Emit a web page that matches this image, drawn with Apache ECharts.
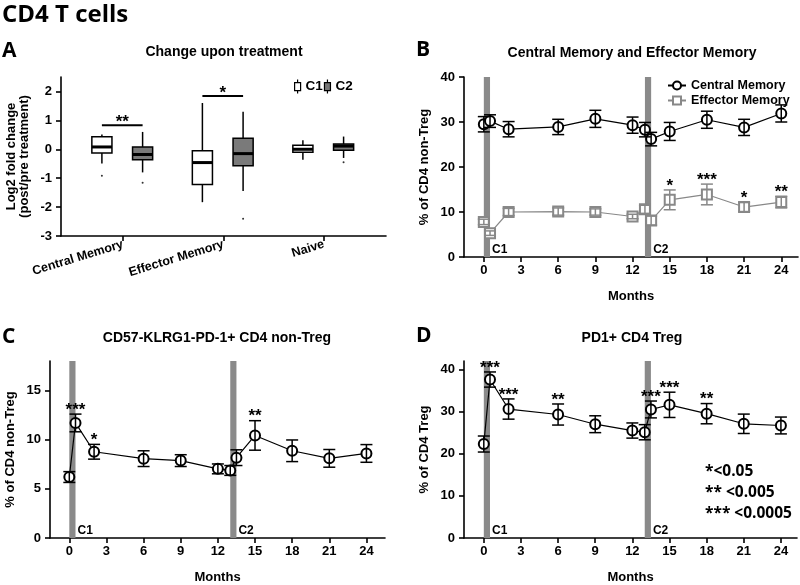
<!DOCTYPE html>
<html><head><meta charset="utf-8">
<script src="https://cdn.jsdelivr.net/npm/echarts@6/dist/echarts.min.js"></script>
<style>html,body{margin:0;padding:0;background:#fff}#c{width:800px;height:585px}</style>
</head><body><div id="c"></div>
<script>
// ---------- Panel A data ----------
const catsA = ['Central Memory', 'Effector Memory', 'Naive'];
// [min, q1, median, q3, max]
const boxC1 = [[-0.49, -0.13, 0.08, 0.43, 0.51], [-1.83, -1.22, -0.46, -0.05, 1.60], [-0.36, -0.10, 0.00, 0.14, 0.31]];
const boxC2 = [[-0.80, -0.36, -0.18, 0.08, 0.60], [-1.44, -0.57, -0.15, 0.38, 1.30], [-0.30, -0.03, 0.11, 0.18, 0.44]];
const outC1 = [[0, -0.92]];
const outC2 = [[0, -1.16], [1, -2.40], [2, -0.45]];
const sigA = [[0, 0.83, '**'], [1, 1.84, '*']];
const yTicksA = [-3, -2, -1, 0, 1, 2];

// ---------- Panels B-D data ----------
const months = [0, 0.5, 2, 6, 9, 12, 13, 13.5, 15, 18, 21, 24];
const monthTicks = [0, 3, 6, 9, 12, 15, 18, 21, 24];
const cycles = [['C1', 0, 0.5], ['C2', 13, 13.5]];

const cmMean = [29.5, 30.2, 28.4, 28.9, 30.7, 29.3, 28.3, 26.2, 27.9, 30.5, 28.8, 31.9];
const cmErr = [1.7, 1.4, 1.7, 1.7, 1.9, 1.8, 1.6, 1.5, 2.0, 1.9, 1.8, 1.9];
const cmStars = ['', '', '', '', '', '', '', '', '', '', '', ''];
const emMean = [7.8, 5.3, 10.0, 10.1, 10.0, 9.0, 10.6, 8.1, 12.7, 13.9, 11.1, 12.2];
const emErr = [0.6, 0.5, 0.8, 0.8, 0.7, 0.5, 0.9, 1.0, 2.2, 2.3, 1.0, 1.3];
const emStars = ['', '', '', '', '', '', '', '', '*', '***', '*', '**'];

const pdMean = [6.2, 11.7, 8.77, 8.07, 7.87, 7.03, 6.87, 8.17, 10.43, 8.87, 8.1, 8.6];
const pdErr = [0.55, 0.9, 0.75, 0.8, 0.6, 0.5, 0.5, 0.8, 1.5, 1.1, 0.9, 0.9];
const pdStars = ['', '***', '*', '', '', '', '', '', '**', '', '', ''];

const trMean = [22.3, 37.6, 30.6, 29.3, 27.0, 25.5, 25.1, 30.5, 31.6, 29.5, 27.1, 26.7];
const trErr = [1.9, 1.8, 2.4, 2.5, 2.0, 1.8, 1.8, 2.0, 3.0, 2.4, 2.3, 2.0];
const trStars = ['', '***', '***', '**', '', '', '', '***', '***', '**', '', ''];

const sigLegend = ['*<0.05', '** <0.005', '*** <0.0005'];

// ---------- helpers ----------
const F = 'Liberation Sans, Arial, sans-serif';
const BLACK = '#000';
const GREY = '#888';

function axisCommon() {
  return {
    axisLine: { show: true, onZero: false, lineStyle: { color: BLACK, width: 1.6 } },
    axisTick: { show: true, length: 5, lineStyle: { color: BLACK, width: 1.6 } },
    axisLabel: { color: BLACK, fontFamily: F, fontWeight: 'bold', fontSize: 13 },
    splitLine: { show: false },
    nameTextStyle: { color: BLACK, fontFamily: F, fontWeight: 'bold', fontSize: 13 }
  };
}
function monthAxis(gi, min, max) {
  const a = axisCommon();
  return Object.assign(a, {
    type: 'value', gridIndex: gi, min: min, max: max,
    name: 'Months', nameLocation: 'middle', nameGap: 33,
    axisTick: Object.assign(a.axisTick, { customValues: monthTicks }),
    axisLabel: Object.assign(a.axisLabel, { customValues: monthTicks, margin: 7 })
  });
}
function valAxis(gi, min, max, ticks, name, gap) {
  const a = axisCommon();
  return Object.assign(a, {
    type: 'value', gridIndex: gi, min: min, max: max,
    name: name, nameLocation: 'middle', nameGap: gap,
    axisTick: Object.assign(a.axisTick, { customValues: ticks }),
    axisLabel: Object.assign(a.axisLabel, { customValues: ticks, margin: 9 })
  });
}

function bandSeries(idx, ymax) {
  return {
    type: 'custom', xAxisIndex: idx, yAxisIndex: idx, z: 1, silent: true,
    data: cycles.map(c => [c[1], c[2]]),
    renderItem: function (params, api) {
      const p0 = api.coord([api.value(0), ymax]);
      const p1 = api.coord([api.value(1), 0]);
      return {
        type: 'group', children: [
          { type: 'rect', shape: { x: p0[0], y: p0[1], width: p1[0] - p0[0], height: p1[1] - p0[1] }, style: { fill: '#8a8a8a' } },
          { type: 'text', x: p1[0] + 2, y: p1[1] - 1, style: { text: cycles[params.dataIndex][0], fill: BLACK, font: 'bold 12px ' + F, textAlign: 'left', textVerticalAlign: 'bottom' } }
        ]
      };
    }
  };
}

function errSeries(idx, mean, err, stars, color) {
  return {
    type: 'custom', xAxisIndex: idx, yAxisIndex: idx, z: 4, silent: true,
    data: months.map((m, i) => [m, mean[i] - err[i], mean[i] + err[i]]),
    renderItem: function (params, api) {
      const lo = api.coord([api.value(0), api.value(1)]);
      const hi = api.coord([api.value(0), api.value(2)]);
      const x = lo[0], hw = 6;
      const st = { stroke: color, lineWidth: 1.5 };
      const ch = [
        { type: 'line', shape: { x1: x, y1: lo[1], x2: x, y2: hi[1] }, style: st },
        { type: 'line', shape: { x1: x - hw, y1: lo[1], x2: x + hw, y2: lo[1] }, style: st },
        { type: 'line', shape: { x1: x - hw, y1: hi[1], x2: x + hw, y2: hi[1] }, style: st }
      ];
      const s = stars[params.dataIndex];
      if (s) ch.push({ type: 'text', x: x, y: hi[1] - 4, style: { text: s, fill: BLACK, font: 'bold 17px ' + F, textAlign: 'center', textVerticalAlign: 'middle' } });
      return { type: 'group', children: ch };
    }
  };
}

function lineSeries(idx, name, mean, color, symbol) {
  return {
    type: 'line', name: name, xAxisIndex: idx, yAxisIndex: idx, z: 3,
    data: months.map((m, i) => [m, mean[i]]),
    symbol: symbol, symbolSize: 10, showAllSymbol: true,
    lineStyle: { color: color, width: 1.2 },
    itemStyle: { color: color, borderColor: color, borderWidth: 1.5 },
    emphasis: { disabled: true }
  };
}

function boxRender(offset, fill) {
  return function (params, api) {
    const x = api.value(0) + offset;
    const w = api.size([0.2, 0])[0];
    const pMin = api.coord([x, api.value(1)]);
    const pQ1 = api.coord([x, api.value(2)]);
    const pMed = api.coord([x, api.value(3)]);
    const pQ3 = api.coord([x, api.value(4)]);
    const pMax = api.coord([x, api.value(5)]);
    const cx = pMin[0];
    const st = { stroke: BLACK, lineWidth: 1.5 };
    return {
      type: 'group', children: [
        { type: 'line', shape: { x1: cx, y1: pMax[1], x2: cx, y2: pQ3[1] }, style: st },
        { type: 'line', shape: { x1: cx, y1: pQ1[1], x2: cx, y2: pMin[1] }, style: st },
        { type: 'rect', shape: { x: cx - w / 2, y: pQ3[1], width: w, height: pQ1[1] - pQ3[1] }, style: { fill: fill, stroke: BLACK, lineWidth: 1.5 } },
        { type: 'line', shape: { x1: cx - w / 2, y1: pMed[1], x2: cx + w / 2, y2: pMed[1] }, style: { stroke: BLACK, lineWidth: 3 } }
      ]
    };
  };
}

const chart = echarts.init(document.getElementById('c'), null, { renderer: 'canvas' });

const aX = axisCommon();
const option = {
  animation: false,
  backgroundColor: '#fff',
  grid: [
    { left: 61, top: 77, width: 325, height: 159 },
    { left: 464, top: 77, width: 334, height: 180 },
    { left: 50, top: 361, width: 335, height: 180 },
    { left: 464, top: 361, width: 333, height: 180 }
  ],
  xAxis: [
    Object.assign(aX, {
      type: 'value', gridIndex: 0, min: -0.617, max: 2.617,
      axisTick: Object.assign(aX.axisTick, { customValues: [0, 1, 2] }),
      axisLabel: Object.assign(aX.axisLabel, { customValues: [0, 1, 2], rotate: 17, margin: 8, fontSize: 12.5, formatter: v => catsA[Math.round(v)] })
    }),
    monthAxis(1, -1.6, 25.35),
    monthAxis(2, -1.56, 25.5),
    monthAxis(3, -1.6, 25.3)
  ],
  yAxis: [
    valAxis(0, -3, 2.5, yTicksA, 'Log2 fold change\n(post/pre treatment)', 30),
    valAxis(1, 0, 40, [0, 10, 20, 30, 40], '% of CD4 non-Treg', 33),
    valAxis(2, 0, 18, [0, 5, 10, 15], '% of CD4 non-Treg', 33),
    valAxis(3, 0, 42, [0, 10, 20, 30, 40], '% of CD4 Treg', 33)
  ],
  legend: [
    {
      left: 294, top: 79, itemGap: 1, itemWidth: 6, itemHeight: 14, padding: 0,
      textStyle: { color: BLACK, fontFamily: F, fontWeight: 'bold', fontSize: 13.5 },
      selectedMode: false,
      data: [
        { name: 'C1', icon: 'path://M3,0L3,3M0,3L6,3L6,11L0,11ZM3,11L3,14', itemStyle: { color: '#fff', borderColor: BLACK, borderWidth: 1.2 } },
        { name: 'C2', icon: 'path://M3,0L3,3M0,3L6,3L6,11L0,11ZM3,11L3,14', itemStyle: { color: '#777', borderColor: BLACK, borderWidth: 1.2 } }
      ]
    },
    {
      left: 667, top: 79, orient: 'vertical', itemGap: 2, itemWidth: 18, itemHeight: 10, padding: 0,
      selectedMode: false,
      textStyle: { color: BLACK, fontFamily: F, fontWeight: 'bold', fontSize: 12.5 },
      data: ['Central Memory', 'Effector Memory']
    }
  ],
  series: [
    // Panel A boxes
    { type: 'custom', name: 'C1', xAxisIndex: 0, yAxisIndex: 0, itemStyle: { color: '#fff' }, data: boxC1.map((b, i) => [i].concat(b)), renderItem: boxRender(-0.21, '#fff') },
    { type: 'custom', name: 'C2', xAxisIndex: 0, yAxisIndex: 0, itemStyle: { color: '#777' }, data: boxC2.map((b, i) => [i].concat(b)), renderItem: boxRender(0.195, '#7a7a7a') },
    { type: 'scatter', xAxisIndex: 0, yAxisIndex: 0, symbolSize: 2, itemStyle: { color: BLACK }, data: outC1.map(o => [o[0] - 0.21, o[1]]) },
    { type: 'scatter', xAxisIndex: 0, yAxisIndex: 0, symbolSize: 2, itemStyle: { color: BLACK }, data: outC2.map(o => [o[0] + 0.195, o[1]]) },
    {
      type: 'custom', xAxisIndex: 0, yAxisIndex: 0, silent: true,
      data: sigA.map(s => [s[0], s[1]]),
      renderItem: function (params, api) {
        const a = api.coord([api.value(0) - 0.21, api.value(1)]);
        const b = api.coord([api.value(0) + 0.195, api.value(1)]);
        return {
          type: 'group', children: [
            { type: 'line', shape: { x1: a[0], y1: a[1], x2: b[0], y2: b[1] }, style: { stroke: BLACK, lineWidth: 2 } },
            { type: 'text', x: (a[0] + b[0]) / 2, y: a[1] - 3, style: { text: sigA[params.dataIndex][2], fill: BLACK, font: 'bold 17px ' + F, textAlign: 'center', textVerticalAlign: 'middle' } }
          ]
        };
      }
    },
    // Panel B
    bandSeries(1, 40),
    errSeries(1, cmMean, cmErr, cmStars, BLACK),
    errSeries(1, emMean, emErr, emStars, GREY),
    lineSeries(1, 'Central Memory', cmMean, BLACK, 'emptyCircle'),
    lineSeries(1, 'Effector Memory', emMean, GREY, 'emptyRect'),
    // Panel C
    bandSeries(2, 18),
    errSeries(2, pdMean, pdErr, pdStars, BLACK),
    lineSeries(2, 'PD-1+ non-Treg', pdMean, BLACK, 'emptyCircle'),
    // Panel D
    bandSeries(3, 42),
    errSeries(3, trMean, trErr, trStars, BLACK),
    lineSeries(3, 'PD1+ Treg', trMean, BLACK, 'emptyCircle')
  ],
  graphic: [
    { type: 'text', left: 2, top: 3, style: { text: 'CD4 T cells', font: 'bold 24px "Open Sans"', fill: BLACK } },
    { type: 'text', x: 2, y: 51, style: { text: 'A', font: 'bold 21px "Open Sans"', fill: BLACK, textVerticalAlign: 'middle' } },
    { type: 'text', x: 416, y: 50, style: { text: 'B', font: 'bold 21px "Open Sans"', fill: BLACK, textVerticalAlign: 'middle' } },
    { type: 'text', x: 2, y: 337, style: { text: 'C', font: 'bold 21px "Open Sans"', fill: BLACK, textVerticalAlign: 'middle' } },
    { type: 'text', x: 416, y: 336, style: { text: 'D', font: 'bold 21px "Open Sans"', fill: BLACK, textVerticalAlign: 'middle' } },
    { type: 'text', x: 224, y: 52, style: { text: 'Change upon treatment', font: 'bold 14px ' + F, fill: BLACK, textAlign: 'center', textVerticalAlign: 'middle' } },
    { type: 'text', x: 632, y: 53, style: { text: 'Central Memory and Effector Memory', font: 'bold 14px ' + F, fill: BLACK, textAlign: 'center', textVerticalAlign: 'middle' } },
    { type: 'text', x: 217, y: 338, style: { text: 'CD57-KLRG1-PD-1+ CD4 non-Treg', font: 'bold 14px ' + F, fill: BLACK, textAlign: 'center', textVerticalAlign: 'middle' } },
    { type: 'text', x: 632, y: 338, style: { text: 'PD1+ CD4 Treg', font: 'bold 14px ' + F, fill: BLACK, textAlign: 'center', textVerticalAlign: 'middle' } },
    { type: 'text', x: 705, y: 472, style: { text: sigLegend[0], font: 'bold 15.5px "Open Sans"', fill: BLACK, textVerticalAlign: 'middle' } },
    { type: 'text', x: 705, y: 493, style: { text: sigLegend[1], font: 'bold 15.5px "Open Sans"', fill: BLACK, textVerticalAlign: 'middle' } },
    { type: 'text', x: 705, y: 514, style: { text: sigLegend[2], font: 'bold 15.5px "Open Sans"', fill: BLACK, textVerticalAlign: 'middle' } }
  ]
};
chart.setOption(option);
</script>
</body></html>
